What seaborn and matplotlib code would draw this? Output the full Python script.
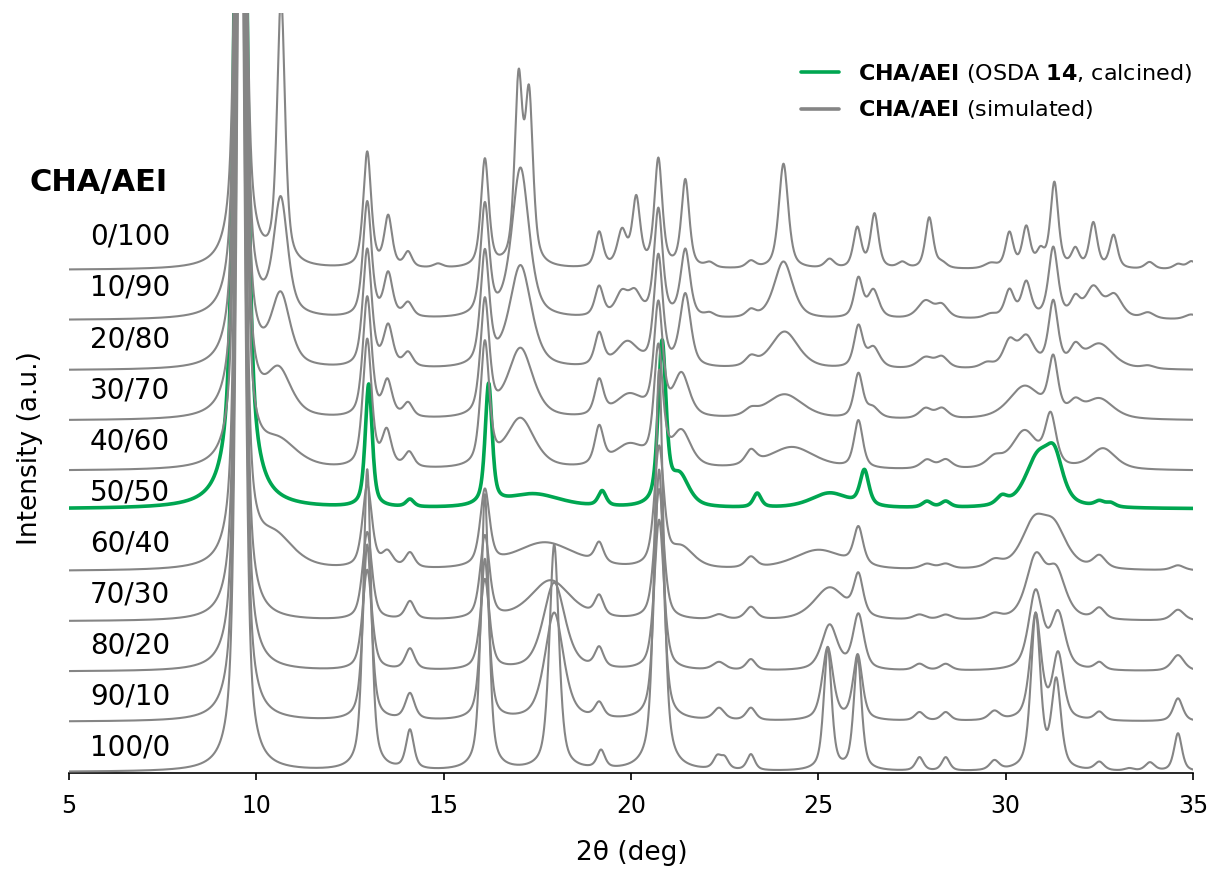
# Stacked XRD patterns of CHA/AEI intergrowths (simulated) with the calcined OSDA 14 sample
import numpy as np
import matplotlib
matplotlib.use('Agg')
import matplotlib.pyplot as plt
import seaborn as sns
from matplotlib.lines import Line2D

# peak lists: (2theta position, height in stack rows, FWHM in deg)
p_0_100 = [(9.58, 20, 0.25), (10.66, 5.3, 0.25), (12.96, 2.3, 0.25), (13.52, 1.0, 0.25), (14.05, 0.3, 0.25),
           (14.85, 0.08, 0.3), (16.1, 2.15, 0.25), (17.0, 3.6, 0.25), (17.28, 3.25, 0.25), (19.15, 0.7, 0.25),
           (19.76, 0.7, 0.3), (20.14, 1.35, 0.25), (20.73, 2.15, 0.25), (21.45, 1.75, 0.25), (22.1, 0.1, 0.3),
           (23.2, 0.14, 0.3), (24.07, 2.1, 0.3), (25.3, 0.18, 0.3), (26.04, 0.8, 0.25), (26.5, 1.08, 0.25),
           (27.24, 0.12, 0.3), (27.96, 1.02, 0.25), (28.3, 0.1, 0.3), (29.6, 0.1, 0.4), (30.1, 0.7, 0.25),
           (30.55, 0.8, 0.25), (30.93, 0.3, 0.25), (31.3, 1.7, 0.25), (31.86, 0.36, 0.25), (32.34, 0.9, 0.25),
           (32.88, 0.66, 0.25), (33.84, 0.14, 0.3), (34.6, 0.1, 0.3), (34.96, 0.16, 0.3)]
p_10_90 = [(9.58, 20, 0.25), (10.65, 2.3, 0.45), (12.96, 2.3, 0.27), (13.52, 0.85, 0.28), (14.05, 0.28, 0.3),
           (16.1, 2.2, 0.27), (17.05, 3.0, 0.55), (19.15, 0.6, 0.27), (19.75, 0.45, 0.4), (20.1, 0.45, 0.4),
           (20.73, 2.15, 0.27), (21.45, 1.35, 0.3), (22.1, 0.08, 0.3), (23.2, 0.14, 0.3), (24.07, 1.15, 0.6),
           (26.07, 0.78, 0.27), (26.47, 0.55, 0.35), (27.86, 0.35, 0.5), (28.3, 0.25, 0.4), (29.6, 0.08, 0.4),
           (30.1, 0.55, 0.3), (30.55, 0.7, 0.3), (31.27, 1.4, 0.3), (31.86, 0.35, 0.3), (32.34, 0.6, 0.5),
           (32.9, 0.45, 0.5), (33.8, 0.12, 0.4), (34.95, 0.1, 0.4)]
p_20_80 = [(9.58, 20, 0.25), (10.65, 1.4, 0.6), (12.96, 2.35, 0.28), (13.52, 0.8, 0.3), (14.05, 0.28, 0.3),
           (16.1, 2.25, 0.28), (17.05, 2.05, 0.7), (19.15, 0.65, 0.28), (19.9, 0.5, 0.7), (20.73, 2.2, 0.28),
           (21.45, 1.45, 0.35), (23.2, 0.18, 0.35), (24.1, 0.75, 0.9), (26.07, 0.82, 0.28), (26.47, 0.4, 0.4),
           (27.86, 0.22, 0.5), (28.3, 0.22, 0.4), (29.5, 0.1, 0.4), (30.1, 0.5, 0.4), (30.55, 0.6, 0.5),
           (31.27, 1.3, 0.3), (31.86, 0.35, 0.35), (32.5, 0.5, 0.9), (33.8, 0.06, 0.4)]
p_30_70 = [(9.58, 20, 0.25), (10.6, 0.9, 0.8), (12.96, 2.4, 0.28), (13.5, 0.7, 0.3), (14.05, 0.28, 0.3),
           (16.1, 2.3, 0.28), (17.05, 1.4, 0.8), (19.15, 0.7, 0.28), (19.95, 0.45, 0.9), (20.73, 2.2, 0.28),
           (21.35, 0.85, 0.5), (23.2, 0.12, 0.4), (24.1, 0.5, 1.2), (26.07, 0.88, 0.28), (26.45, 0.2, 0.4),
           (27.86, 0.2, 0.4), (28.3, 0.2, 0.4), (30.5, 0.65, 1.0), (31.27, 1.1, 0.3), (31.86, 0.25, 0.4),
           (32.5, 0.4, 0.9)]
p_40_60 = [(9.58, 20, 0.25), (10.6, 0.5, 1.2), (12.96, 2.55, 0.28), (13.48, 0.7, 0.3), (14.08, 0.3, 0.3),
           (16.1, 2.45, 0.28), (17.05, 1.0, 0.9), (19.15, 0.75, 0.28), (19.95, 0.45, 1.0), (20.73, 2.3, 0.28),
           (21.35, 0.7, 0.6), (23.2, 0.28, 0.35), (24.3, 0.45, 1.5), (26.07, 0.95, 0.28), (27.9, 0.18, 0.4),
           (28.4, 0.18, 0.4), (29.7, 0.2, 0.5), (30.5, 0.75, 0.8), (31.2, 1.0, 0.35), (32.6, 0.42, 0.8)]
p_60_40 = [(9.58, 20, 0.25), (10.5, 0.6, 1.2), (12.96, 1.65, 0.3), (13.5, 0.3, 0.35), (14.1, 0.3, 0.3),
           (16.1, 1.5, 0.3), (17.7, 0.55, 2.0), (19.15, 0.4, 0.28), (20.75, 2.35, 0.3), (21.35, 0.4, 0.8),
           (23.2, 0.22, 0.35), (25.0, 0.4, 1.6), (26.07, 0.75, 0.3), (27.9, 0.1, 0.4), (28.4, 0.1, 0.4),
           (29.7, 0.15, 0.5), (30.75, 0.85, 0.8), (31.3, 0.75, 0.8), (32.5, 0.25, 0.4), (34.6, 0.1, 0.4)]
p_70_30 = [(9.58, 20, 0.25), (12.96, 1.75, 0.3), (14.1, 0.36, 0.3), (16.1, 1.65, 0.3), (17.85, 0.8, 1.3),
           (19.15, 0.4, 0.28), (20.75, 2.6, 0.3), (22.35, 0.1, 0.4), (23.2, 0.25, 0.35), (25.3, 0.65, 1.0),
           (26.07, 0.8, 0.3), (27.7, 0.1, 0.4), (28.4, 0.1, 0.4), (29.7, 0.1, 0.4), (30.8, 1.2, 0.6),
           (31.35, 0.9, 0.6), (32.5, 0.22, 0.35), (34.6, 0.22, 0.4)]
p_80_20 = [(9.58, 20, 0.25), (12.96, 2.0, 0.3), (14.1, 0.42, 0.3), (16.1, 1.8, 0.3), (17.95, 1.75, 0.7),
           (19.15, 0.4, 0.28), (20.75, 3.0, 0.3), (22.35, 0.16, 0.4), (23.2, 0.22, 0.3), (25.3, 0.9, 0.5),
           (26.07, 1.1, 0.35), (27.7, 0.13, 0.35), (28.4, 0.13, 0.35), (30.8, 1.55, 0.45), (31.4, 1.1, 0.45),
           (32.5, 0.15, 0.3), (34.6, 0.32, 0.4)]
p_90_10 = [(9.58, 20, 0.25), (12.96, 3.5, 0.27), (14.1, 0.52, 0.3), (16.1, 3.2, 0.27), (17.95, 2.15, 0.6),
           (19.15, 0.3, 0.28), (20.75, 5.0, 0.28), (22.35, 0.24, 0.35), (23.2, 0.25, 0.3), (25.25, 1.45, 0.35),
           (26.05, 1.3, 0.3), (27.7, 0.17, 0.3), (28.4, 0.17, 0.3), (29.7, 0.18, 0.35), (30.8, 2.1, 0.35),
           (31.4, 1.3, 0.35), (32.5, 0.17, 0.3), (34.6, 0.46, 0.3)]
p_100_0 = [(9.58, 20, 0.25), (12.96, 6.0, 0.25), (14.1, 0.78, 0.25), (16.1, 5.5, 0.25), (17.95, 4.5, 0.3),
           (19.2, 0.36, 0.25), (20.75, 8.0, 0.28), (22.3, 0.24, 0.25), (22.5, 0.22, 0.25), (23.2, 0.32, 0.25),
           (25.25, 2.45, 0.25), (26.05, 2.25, 0.25), (27.7, 0.27, 0.25), (28.4, 0.27, 0.25), (29.7, 0.19, 0.3),
           (30.8, 3.1, 0.3), (31.35, 1.75, 0.3), (32.5, 0.17, 0.3), (33.3, 0.05, 0.3), (33.85, 0.17, 0.3),
           (34.6, 0.76, 0.25)]
p_calcined = [(9.58, 25, 0.3), (13.0, 2.45, 0.22), (14.1, 0.15, 0.25), (16.2, 2.4, 0.22), (17.4, 0.28, 1.8),
              (19.23, 0.3, 0.25), (20.83, 3.2, 0.25), (21.3, 0.6, 0.6), (23.37, 0.28, 0.25), (25.3, 0.3, 1.2),
              (26.23, 0.7, 0.28), (27.9, 0.12, 0.3), (28.4, 0.12, 0.3), (29.9, 0.17, 0.35), (30.85, 0.95, 0.8),
              (31.3, 0.85, 0.55), (32.5, 0.1, 0.3), (32.8, 0.08, 0.3)]

compositions = ['0/100', '10/90', '20/80', '30/70', '40/60', '50/50',
                '60/40', '70/30', '80/20', '90/10', '100/0']
simulated = {'0/100': p_0_100, '10/90': p_10_90, '20/80': p_20_80, '30/70': p_30_70,
             '40/60': p_40_60, '60/40': p_60_40, '70/30': p_70_30, '80/20': p_80_20,
             '90/10': p_90_10, '100/0': p_100_0}
calcined_offset = 5.24

two_theta = np.linspace(5, 35, 3001)


def pattern(peaks, eta=0.6):
    y = np.zeros_like(two_theta)
    for pos, h, fwhm in peaks:
        d2 = ((two_theta - pos) / (fwhm / 2)) ** 2
        y += h * (eta / (1 + d2) + (1 - eta) * np.exp(-np.log(2) * d2))
    return y


sns.set_theme(style='white')
plt.rcParams['font.family'] = ['DejaVu Sans']
plt.rcParams['mathtext.fontset'] = 'dejavusans'
plt.rcParams['text.color'] = 'black'
plt.rcParams['axes.labelcolor'] = 'black'
plt.rcParams['xtick.color'] = 'black'

GRAY = '#858585'
GREEN = '#00a651'

fig = plt.figure(figsize=(12.11, 8.71), dpi=100)
ax = fig.add_axes([69 / 1211, 1 - 773 / 871, 1124 / 1211, 760 / 871])

sns.lineplot(x=two_theta, y=pattern(p_calcined) + calcined_offset, ax=ax, color=GREEN,
             linewidth=2.6, estimator=None, sort=False, zorder=2)
for i, comp in enumerate(compositions):
    if comp in simulated:
        offset = len(compositions) - 1 - i
        sns.lineplot(x=two_theta, y=pattern(simulated[comp]) + offset, ax=ax, color=GRAY,
                     linewidth=1.5, estimator=None, sort=False, zorder=3)
    ax.text(7.7, 0.48 + (len(compositions) - 1 - i) * 1.018, comp, ha='right', va='center',
            fontsize=20, color='black')

ax.text(7.63, 11.74, 'CHA/AEI', ha='right', va='center', fontsize=22, fontweight='bold', color='black')

ax.set_xlim(5, 35)
ax.set_ylim(-0.02, 15.12)
ax.set_xticks([5, 10, 15, 20, 25, 30, 35])
ax.set_yticks([])
for side in ['top', 'right', 'left']:
    ax.spines[side].set_visible(False)
ax.spines['bottom'].set_color('black')
ax.spines['bottom'].set_linewidth(1.2)
ax.tick_params(axis='x', direction='out', length=5, width=1.2, color='black',
               labelcolor='black', labelsize=17, pad=10, bottom=True)
ax.set_xlabel('2θ (deg)', fontsize=19, color='black')
ax.xaxis.set_label_coords(0.501, -0.088)
ax.set_ylabel('Intensity (a.u.)', fontsize=19, color='black')
ax.yaxis.set_label_coords(-0.023, 0.428)

handles = [Line2D([], [], color=GREEN, linewidth=2.6), Line2D([], [], color=GRAY, linewidth=2.6)]
labels = [r'$\mathbf{CHA/AEI}$ (OSDA $\mathbf{14}$, calcined)', r'$\mathbf{CHA/AEI}$ (simulated)']
leg = ax.legend(handles, labels, loc='upper right', bbox_to_anchor=(1192 / 1211, 1 - 62 / 871),
                bbox_transform=fig.transFigure, frameon=False, fontsize=16, handlelength=1.7,
                handletextpad=0.85, labelspacing=0.6, borderpad=0, borderaxespad=0)
for t in leg.get_texts():
    t.set_color('black')

fig.savefig('out.png', dpi=100)
